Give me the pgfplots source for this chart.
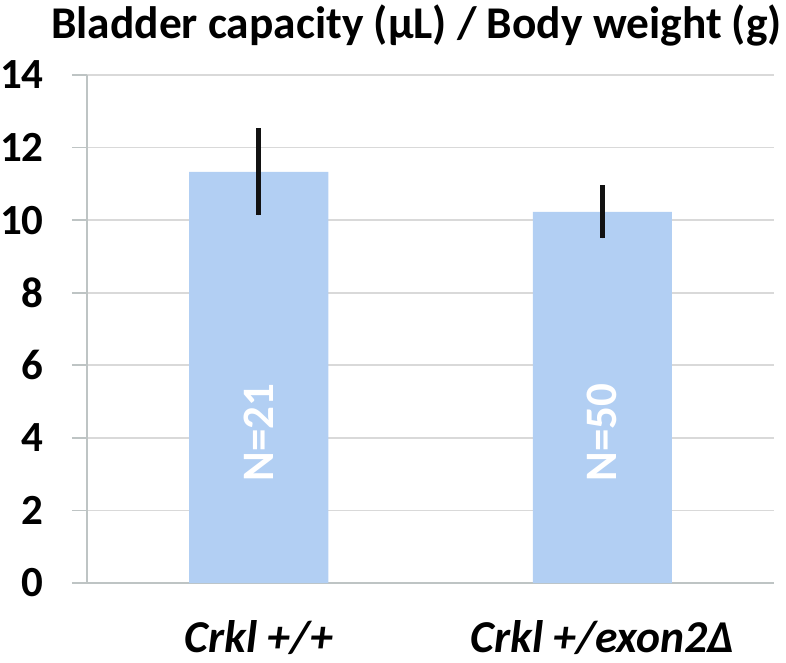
\documentclass[border=0pt]{standalone}
\usepackage{pgfplots}
\pgfplotsset{compat=1.18}
\usepackage{fontspec}
\setmainfont{Carlito}
\definecolor{barblue}{RGB}{178,207,243}
\definecolor{axisgray}{RGB}{190,196,196}
\definecolor{gridgray}{RGB}{217,217,217}
\begin{document}
\begin{tikzpicture}
\path[use as bounding box] (-43.5bp,-40bp) rectangle (349.5bp,291.5bp);
\begin{axis}[
    name=ax,
    at={(0,0)}, anchor=south west,
    scale only axis,
    width=343.5bp, height=254bp,
    xmin=-0.5, xmax=1.5,
    ymin=0, ymax=14,
    ytick={0,2,...,14},
    xtick={0,1},
    xticklabels={\textit{Crkl +/+},\textit{Crkl +/exon2Δ}},
    axis x line*=bottom, axis y line*=left,
    axis line style={axisgray, line width=0.8bp, -},
    ymajorgrids, grid style={gridgray, line width=0.8bp},
    tick style={axisgray, line width=0.8bp},
    tick align=outside,
    major tick length=7.5bp,
    x tick style={draw=none},
    extra x ticks={-0.5,0.5,1.5},
    extra x tick labels={},
    extra x tick style={grid=none, tick style={draw=axisgray, line width=0.8bp}, major tick length=6.5bp},
    font=\bfseries,
    /pgf/number format/assume math mode=true,
    yticklabel style={font=\fontsize{21.5bp}{24bp}\selectfont\bfseries, anchor=east, inner sep=0pt, xshift=-14bp},
    xticklabel style={font=\fontsize{22.8bp}{26bp}\selectfont\bfseries, anchor=base, inner sep=0pt, yshift=-27bp},
    title={Bladder capacity (µL) / Body weight (g)},
    title style={font=\fontsize{22.7bp}{26bp}\selectfont\bfseries, at={(0.5,1)}, anchor=base, inner sep=0pt, yshift=12.5bp, xshift=-7bp},
    clip=false,
]
\addplot[ybar, bar width=69.5bp, fill=barblue, draw=none,
    error bars/.cd, y dir=both, y explicit,
    error mark=none,
    error bar style={line width=2.6bp, black!93}]
  coordinates {(0,11.33) +- (0,1.2) (1,10.23) +- (0,0.73)};
\node[rotate=90, text=white, font=\fontsize{22.5bp}{26bp}\selectfont\bfseries] at (axis cs:0,4.15) {N=21};
\node[rotate=90, text=white, font=\fontsize{22.5bp}{26bp}\selectfont\bfseries] at (axis cs:1,4.15) {N=50};
\end{axis}
\end{tikzpicture}
\end{document}
